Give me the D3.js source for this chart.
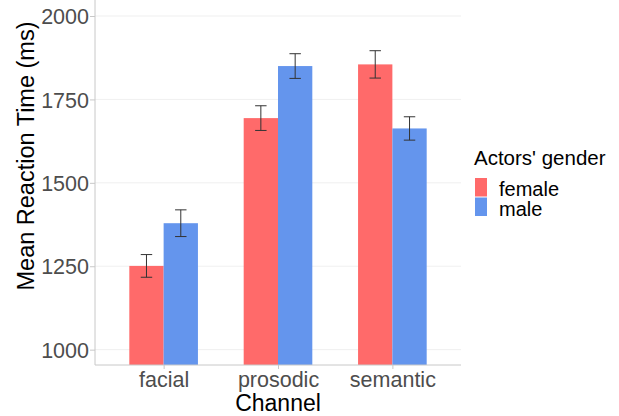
<!DOCTYPE html>
<html><head><meta charset="utf-8">
<script src="https://cdn.jsdelivr.net/npm/d3@7"></script>
<style>body{margin:0;background:#fff;} text{font-family:"Liberation Sans",Arial,sans-serif;}</style>
</head><body>
<svg id="c" width="619" height="416"></svg>
<script>
const categories = ["facial", "prosodic", "semantic"];
const genders = ["female", "male"];
const femaleMeans = [1251, 1694, 1855];
const femaleErr = [34, 37, 41];
const maleMeans = [1379, 1850, 1663];
const maleErr = [40, 37, 35];
const yTicks = [1000, 1250, 1500, 1750, 2000];
const colors = ["#ff6a6a", "#6495ed"];

const svg = d3.select("#c");
const L = 95, R = 461, T = 0, B = 365;

const y = d3.scaleLinear().domain([954, 2048]).range([B, T]);
const x = d3.scaleLinear().domain([0.4, 3.6]).range([L, R]);

// grid
svg.append("g").selectAll("line").data(yTicks).join("line")
  .attr("x1", L).attr("x2", R).attr("y1", d => y(d)).attr("y2", d => y(d))
  .attr("stroke", "#ebebeb").attr("stroke-width", 0.8);

const data = [];
categories.forEach((c, i) => {
  data.push({cat: c, i: i, g: 0, v: femaleMeans[i], e: femaleErr[i]});
  data.push({cat: c, i: i, g: 1, v: maleMeans[i], e: maleErr[i]});
});
const bw = 0.3;
function i2(d){ return d.i + 1; }
const cx = d => x(i2(d) + (d.g === 0 ? -bw/2 : bw/2));

svg.append("g").selectAll("rect").data(data).join("rect")
  .attr("x", d => x(i2(d) + (d.g === 0 ? -bw : 0)))
  .attr("width", d => x(bw) - x(0))
  .attr("y", d => y(d.v))
  .attr("height", d => B - y(d.v))
  .attr("fill", d => colors[d.g]);

// error bars
const eg = svg.append("g").attr("stroke", "#333").attr("stroke-width", 1);
const cap = (x(0.1) - x(0)) / 2;
data.forEach(d => {
  const c = cx(d);
  eg.append("line").attr("x1", c).attr("x2", c).attr("y1", y(d.v + d.e)).attr("y2", y(d.v - d.e));
  eg.append("line").attr("x1", c - cap).attr("x2", c + cap).attr("y1", y(d.v + d.e)).attr("y2", y(d.v + d.e));
  eg.append("line").attr("x1", c - cap).attr("x2", c + cap).attr("y1", y(d.v - d.e)).attr("y2", y(d.v - d.e));
});

// axes
const yAxis = d3.axisLeft(y).tickValues(yTicks).tickFormat(d3.format("d")).tickSize(5).tickPadding(1);
const gy = svg.append("g").attr("transform", `translate(${L},0)`).call(yAxis);
gy.select(".domain").attr("stroke", "#c8c8c8").attr("d", `M0,${T}V${B}`);
gy.selectAll(".tick line").attr("stroke", "#c8c8c8");
gy.selectAll(".tick text").attr("fill", "#4d4d4d").style("font-size", "21.5px").attr("dy", "0.36em");

const xAxis = d3.axisBottom(x).tickValues([1, 2, 3]).tickFormat((d) => categories[d - 1]).tickSize(4).tickPadding(3);
const gx = svg.append("g").attr("transform", `translate(0,${B})`).call(xAxis);
gx.select(".domain").attr("stroke", "#c8c8c8").attr("d", `M${L},0H${R}`);
gx.selectAll(".tick line").attr("stroke", "#c8c8c8");
gx.selectAll(".tick text").attr("fill", "#4d4d4d").style("font-size", "21.5px").attr("dy", null).attr("y", 22);

// axis titles
svg.append("text").attr("x", (L + R) / 2).attr("y", 411).attr("text-anchor", "middle")
  .style("font-size", "23px").attr("fill", "#000").text("Channel");
svg.append("text").attr("transform", `translate(33.5,156) rotate(-90)`).attr("text-anchor", "middle")
  .style("font-size", "23.5px").attr("fill", "#000").text("Mean Reaction Time (ms)");

// legend
const lg = svg.append("g");
lg.append("text").attr("x", 474).attr("y", 165).style("font-size", "20.5px").attr("fill", "#000").text("Actors' gender");
genders.forEach((g, k) => {
  lg.append("rect").attr("x", 475).attr("y", 178 + k * 19.5).attr("width", 12).attr("height", 18.5).attr("fill", colors[k]);
  lg.append("text").attr("x", 499).attr("y", 195.5 + k * 20.5).style("font-size", "20px").attr("fill", "#000").text(g);
});
</script>
</body></html>
